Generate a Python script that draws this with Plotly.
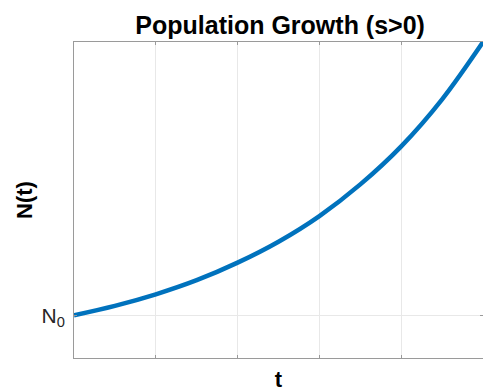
import plotly.graph_objects as go

# Population N(t) sampled along t (N0 = 1)
t_vals = [0.0, 0.5, 1.0, 1.5, 2.0, 2.5, 3.0, 3.5, 4.0, 4.5, 5.0]
n_vals = [1.00, 1.22, 1.49, 1.82, 2.23, 2.72, 3.32, 4.06, 4.95, 6.05, 7.39]

x_grid = [1, 2, 3, 4]
y_tick_vals = [1.0]
y_tick_text = ["N<sub>0</sub>"]

axis_color = "#9a9a9a"
grid_color = "#e8e8e8"

fig = go.Figure()
fig.add_trace(go.Scatter(
    x=t_vals, y=n_vals, mode="lines", line_shape="spline",
    line=dict(color="#0072BD", width=4.5), showlegend=False,
))

fig.update_layout(
    width=483, height=392,
    margin=dict(l=74, r=0, t=42, b=34),
    paper_bgcolor="white", plot_bgcolor="white",
    font=dict(family="Liberation Sans, Arial, sans-serif", color="#262626"),
    title=dict(text="<b>Population Growth (s>0)</b>", x=0.58, xanchor="center",
               y=0.936, yanchor="middle", font=dict(size=25, color="#000000")),
    xaxis=dict(range=[0, 5], tickvals=x_grid, showticklabels=False,
               showgrid=True, gridcolor=grid_color, gridwidth=1,
               showline=True, linecolor=axis_color, linewidth=1, mirror="ticks",
               ticks="inside", ticklen=3, tickcolor=axis_color, zeroline=False,
               title=dict(text="<b>t</b>", font=dict(size=22, color="#000000"), standoff=14)),
    yaxis=dict(range=[0, 7.39], tickvals=y_tick_vals, ticktext=y_tick_text,
               showgrid=True, gridcolor=grid_color, gridwidth=1,
               showline=True, linecolor=axis_color, linewidth=1, mirror="ticks",
               ticks="inside", ticklen=3, tickcolor=axis_color, zeroline=False,
               tickfont=dict(size=21, color="#262626"), ticklabelstandoff=4,
               title=dict(text="<b>N(t)</b>", font=dict(size=22, color="#000000"), standoff=2)),
)

fig.write_html("out.html")
